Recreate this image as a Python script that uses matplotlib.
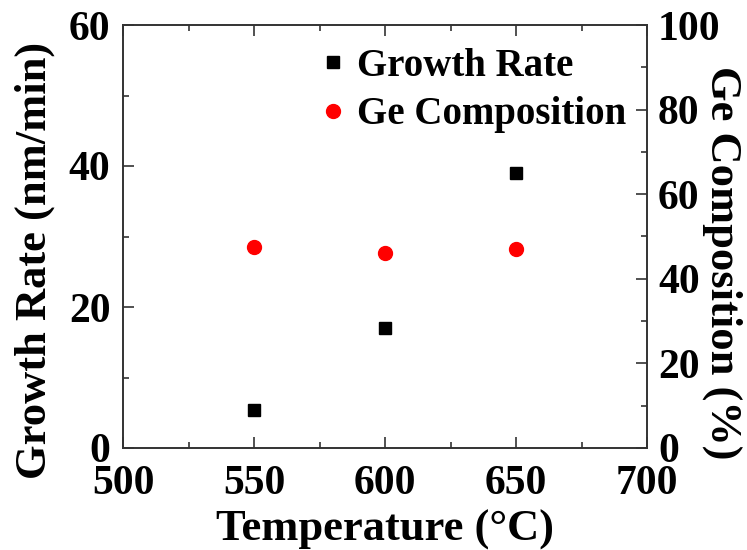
import matplotlib
matplotlib.use("Agg")
import matplotlib.pyplot as plt
from matplotlib.ticker import MultipleLocator

temperature = [550, 600, 650]
growth_rate = [5.4, 17.0, 39.0]
ge_composition = [47.5, 46.1, 47.0]

plt.rcParams['font.family'] = ['Liberation Serif', 'DejaVu Serif']
plt.rcParams['font.weight'] = 'bold'

fig = plt.figure(figsize=(7.47, 5.5), dpi=100)
ax = fig.add_axes([123/747, 1 - 448/550, (647-123)/747, (448-25)/550])
ax2 = ax.twinx()

h1, = ax.plot(temperature, growth_rate, 's', color='black', markersize=8.5,
              linestyle='none', label='Growth Rate')
h2, = ax2.plot(temperature, ge_composition, 'o', color='#ff0000', markersize=10,
               linestyle='none', label='Ge Composition')

ax.set_xlim(500, 700)
ax.set_ylim(0, 60)
ax2.set_ylim(0, 100)

ax.xaxis.set_major_locator(MultipleLocator(50))
ax.xaxis.set_minor_locator(MultipleLocator(25))
ax.yaxis.set_major_locator(MultipleLocator(20))
ax.yaxis.set_minor_locator(MultipleLocator(10))
ax2.yaxis.set_major_locator(MultipleLocator(20))
ax2.yaxis.set_minor_locator(MultipleLocator(10))

for a in (ax, ax2):
    for s in a.spines.values():
        s.set_linewidth(1.2)
        s.set_color('#333333')

ax.tick_params(axis='x', which='both', direction='in', top=True, bottom=True,
               labelsize=30, pad=12.5, colors='black')
ax.tick_params(axis='y', which='both', direction='in', left=True, right=False,
               labelsize=30, pad=9)
ax2.tick_params(axis='y', which='both', direction='in', right=True,
                labelsize=30, pad=8)
for a in (ax, ax2):
    a.tick_params(which='major', length=8, width=1.2, color='#333333')
    a.tick_params(which='minor', length=4, width=1.2, color='#333333')

ax.set_xlabel('Temperature (°C)', fontsize=32, fontweight='bold', labelpad=4.5)
ax.set_ylabel('Growth Rate (nm/min)', fontsize=32, fontweight='bold')
ax.yaxis.set_label_coords(-0.130, 0.444)
ax2.set_ylabel('Ge Composition (%)', fontsize=32, fontweight='bold',
               rotation=270, va='bottom')
ax2.yaxis.set_label_coords(1.105, 0.437)

leg = ax.legend(handles=[h1, h2], loc='upper left', bbox_to_anchor=(0.348, 0.983),
                frameon=False, fontsize=28, handlelength=0.6, handletextpad=0.34,
                labelspacing=0.3, borderaxespad=0.0)

fig.savefig('out.png', dpi=100)
